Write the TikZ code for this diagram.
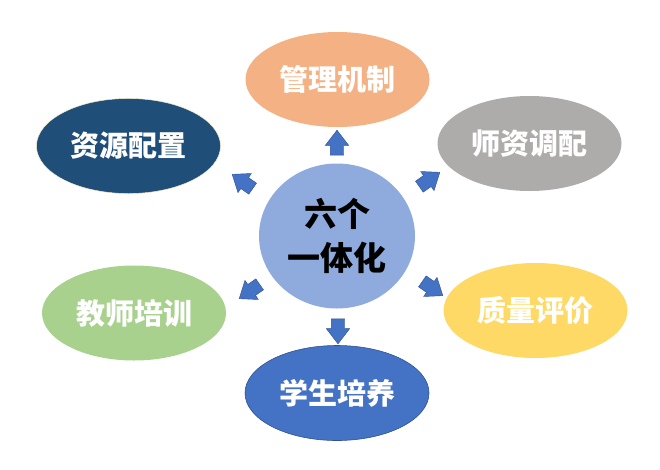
\documentclass[tikz,border=0pt]{standalone}
\usepackage{fontspec}
\setmainfont{Noto Sans CJK SC}
\usepackage{tikz}
\usetikzlibrary{shapes.geometric, shapes.arrows, positioning}

\definecolor{hubblue}{HTML}{8FAADC}
\definecolor{peach}{HTML}{F4B183}
\definecolor{navy}{HTML}{1F4E79}
\definecolor{greyish}{HTML}{AEABAB}
\definecolor{leaf}{HTML}{A9D18E}
\definecolor{gold}{HTML}{FFD966}
\definecolor{royal}{HTML}{4472C4}
\definecolor{royaledge}{HTML}{2F528F}

\begin{document}
\begin{tikzpicture}[x=1pt, y=-1pt,
    topic/.style={ellipse, minimum width=184pt, minimum height=95pt, inner sep=0pt, text=white, font=\fontsize{29}{34}\selectfont\bfseries},
    blockarrow/.style={single arrow, fill=royal, draw=royaledge, line width=0.4pt, minimum height=25pt, inner xsep=0pt, inner ysep=6.5pt, single arrow head extend=5pt, single arrow tip angle=75, single arrow head indent=0pt}]
  \useasboundingbox (0,0) rectangle (660,469);
  \node[ellipse, fill=hubblue, minimum width=156pt, minimum height=145pt, inner sep=0pt, align=center, font=\fontsize{33}{44}\selectfont\bfseries] (hub) at (337,236) {六个\\一体化};
  \node[topic, fill=peach] (guanli) at (337.5,79.5) {管理机制};
  \node[topic, fill=navy, draw=gold!40, line width=0.4pt] (ziyuan) at (128.5,146) {资源配置};
  \node[topic, fill=greyish] (shizi) at (529.5,143.5) {师资调配};
  \node[topic, fill=leaf] (jiaoshi) at (134,313) {教师培训};
  \node[topic, fill=gold] (zhiliang) at (535.5,310.5) {质量评价};
  \node[topic, fill=royal, draw=royaledge, line width=0.6pt] (xuesheng) at (337,393) {学生培养};
  \node[blockarrow, rotate=90] (aup) at (337,147) {};
  \node[blockarrow, rotate=145] (aul) at (246,184) {};
  \node[blockarrow, rotate=35] (aur) at (426,182) {};
  \node[blockarrow, rotate=215] (all) at (253,289) {};
  \node[blockarrow, rotate=-35] (alr) at (429,286) {};
  \node[blockarrow, rotate=-90] (adown) at (338,327) {};
\end{tikzpicture}
\end{document}
